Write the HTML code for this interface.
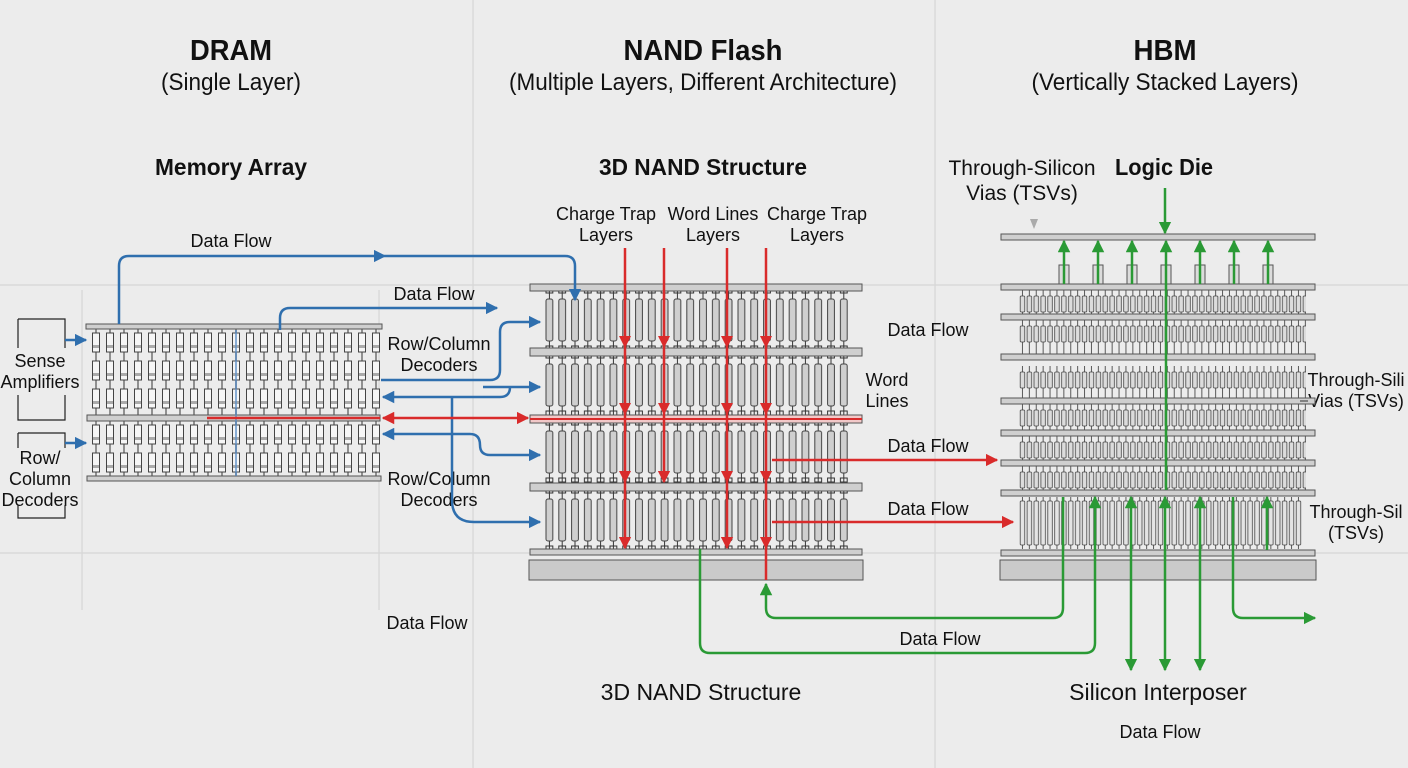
<!DOCTYPE html>
<html><head><meta charset="utf-8"><style>
html,body{margin:0;padding:0;background:#ececec}
svg{display:block;font-family:"Liberation Sans",Arial,sans-serif}
</style></head><body>
<svg width="1408" height="768" viewBox="0 0 1408 768" xmlns="http://www.w3.org/2000/svg">
<defs>
<marker id="ab" viewBox="0 0 10 10" refX="9" refY="5" markerWidth="5" markerHeight="5" orient="auto-start-reverse"><path d="M0,0L10,5L0,10z" fill="#2f6fae"/></marker>
<marker id="ar" viewBox="0 0 10 10" refX="9" refY="5" markerWidth="5" markerHeight="5" orient="auto-start-reverse"><path d="M0,0L10,5L0,10z" fill="#d92b2b"/></marker>
<marker id="ag" viewBox="0 0 10 10" refX="9" refY="5" markerWidth="5" markerHeight="5" orient="auto-start-reverse"><path d="M0,0L10,5L0,10z" fill="#2a9a35"/></marker>
<pattern id="pd" width="14" height="28" patternUnits="userSpaceOnUse">
<line x1="7" y1="0" x2="7" y2="28" stroke="#333" stroke-width="1"/>
<rect x="3.5" y="4" width="7" height="19" fill="#f6f6f6" stroke="#444" stroke-width="1"/>
<rect x="4" y="16" width="6" height="3" fill="#aaa"/>
</pattern>
<pattern id="pn" width="12.8" height="57" patternUnits="userSpaceOnUse">
<line x1="6.4" y1="0" x2="6.4" y2="57" stroke="#333" stroke-width="1"/>
<path d="M3,57 L3,55 L9.8,55 L9.8,57 M3,0 L3,2 L9.8,2 L9.8,0" fill="none" stroke="#333"/>
<rect x="3" y="8" width="6.8" height="42" rx="2" fill="#cfcfcf" stroke="#444" stroke-width="1"/>
</pattern>
<pattern id="ph" width="6.9" height="30" patternUnits="userSpaceOnUse">
<line x1="3.45" y1="0" x2="3.45" y2="30" stroke="#333" stroke-width="0.8"/>
<rect x="1.2" y="6" width="4.5" height="16" rx="1" fill="#dcdcdc" stroke="#444" stroke-width="0.8"/>
</pattern>
<pattern id="ph2" width="6.9" height="52" patternUnits="userSpaceOnUse">
<line x1="3.45" y1="0" x2="3.45" y2="52" stroke="#333" stroke-width="0.8"/>
<rect x="1.2" y="4" width="4.5" height="44" rx="1" fill="#e4e4e4" stroke="#444" stroke-width="0.8"/>
</pattern>
</defs>

<g stroke="#d6d6d6" stroke-width="1.2">
<line x1="473" y1="0" x2="473" y2="768"/><line x1="935" y1="0" x2="935" y2="768"/>
<line x1="82" y1="290" x2="82" y2="610"/><line x1="379" y1="290" x2="379" y2="610"/>
<line x1="0" y1="285" x2="1408" y2="285"/><line x1="0" y1="553" x2="1408" y2="553"/>
</g>

<g fill="#111" text-anchor="middle">
<text x="231" y="60" font-size="29" font-weight="bold" textLength="82" lengthAdjust="spacingAndGlyphs">DRAM</text>
<text x="231" y="90" font-size="24" textLength="140" lengthAdjust="spacingAndGlyphs">(Single Layer)</text>
<text x="703" y="60" font-size="29" font-weight="bold" textLength="159" lengthAdjust="spacingAndGlyphs">NAND Flash</text>
<text x="703" y="90" font-size="24" textLength="388" lengthAdjust="spacingAndGlyphs">(Multiple Layers, Different Architecture)</text>
<text x="1165" y="60" font-size="29" font-weight="bold" textLength="63" lengthAdjust="spacingAndGlyphs">HBM</text>
<text x="1165" y="90" font-size="24" textLength="267" lengthAdjust="spacingAndGlyphs">(Vertically Stacked Layers)</text>
<text x="231" y="175" font-size="23" font-weight="bold" textLength="152" lengthAdjust="spacingAndGlyphs">Memory Array</text>
<text x="703" y="175" font-size="23" font-weight="bold" textLength="208" lengthAdjust="spacingAndGlyphs">3D NAND Structure</text>
<text x="1164" y="175" font-size="23" font-weight="bold" textLength="98" lengthAdjust="spacingAndGlyphs">Logic Die</text>
<text x="1022" y="175" font-size="21">Through-Silicon</text>
<text x="1022" y="200" font-size="21">Vias (TSVs)</text>
</g>
<g fill="#111" text-anchor="middle" font-size="18">
<text x="606" y="220">Charge Trap</text><text x="606" y="241">Layers</text>
<text x="713" y="220">Word Lines</text><text x="713" y="241">Layers</text>
<text x="817" y="220">Charge Trap</text><text x="817" y="241">Layers</text>
<text x="231" y="247">Data Flow</text>
<text x="434" y="300">Data Flow</text>
<text x="439" y="350">Row/Column</text><text x="439" y="371">Decoders</text>
<text x="439" y="485">Row/Column</text><text x="439" y="506">Decoders</text>
<text x="427" y="629">Data Flow</text>
<text x="928" y="336">Data Flow</text>
<text x="887" y="386">Word</text><text x="887" y="407">Lines</text>
<text x="928" y="452">Data Flow</text>
<text x="928" y="515">Data Flow</text>
<text x="940" y="645">Data Flow</text>
<text x="40" y="367">Sense</text><text x="40" y="388">Amplifiers</text>
<text x="40" y="464">Row/</text><text x="40" y="485">Column</text><text x="40" y="506">Decoders</text>
<text x="1160" y="738">Data Flow</text>
<text x="1356" y="386">Through-Sili</text><text x="1356" y="407">Vias (TSVs)</text>
<text x="1356" y="518">Through-Sil</text><text x="1356" y="539">(TSVs)</text>
</g>
<g fill="#111" text-anchor="middle" font-size="23">
<text x="701" y="700">3D NAND Structure</text>
<text x="1158" y="700">Silicon Interposer</text>
</g>

<g fill="none" stroke="#222" stroke-width="1.2">
<path d="M18,319 H65 V348 M18,319 V348 M18,395 V420 H65 V395"/>
<path d="M18,433 H65 V448 M18,433 V448 M18,505 V518 H65 V505"/>
</g>
<g stroke="#2f6fae" stroke-width="2.5" fill="none">
<line x1="65" y1="340" x2="86" y2="340" marker-end="url(#ab)"/>
<line x1="65" y1="443" x2="86" y2="443" marker-end="url(#ab)"/>
</g>

<!-- DRAM array -->
<g transform="translate(89,329)"><rect width="294" height="86" fill="url(#pd)"/></g>
<g transform="translate(89,421)"><rect width="294" height="56" fill="url(#pd)"/></g>
<g fill="#cfcfcf" stroke="#555" stroke-width="1">
<rect x="86" y="324" width="296" height="5"/>
<rect x="87" y="415" width="293" height="6"/>
<rect x="87" y="476" width="294" height="5"/>
</g>
<line x1="236" y1="330" x2="236" y2="476" stroke="#5b8fc8" stroke-width="2" opacity="0.7"/>
<line x1="207" y1="418" x2="380" y2="418" stroke="#d92b2b" stroke-width="2.5"/>

<!-- NAND -->
<g transform="translate(543,291)"><rect width="307" height="57" fill="url(#pn)"/></g>
<g transform="translate(543,356)"><rect width="307" height="59" fill="url(#pn)"/></g>
<g transform="translate(543,423)"><rect width="307" height="60" fill="url(#pn)"/></g>
<g transform="translate(543,491)"><rect width="307" height="58" fill="url(#pn)"/></g>
<g fill="#cfcfcf" stroke="#555" stroke-width="1">
<rect x="530" y="284" width="332" height="7"/>
<rect x="530" y="348" width="332" height="8"/>
<rect x="530" y="415" width="332" height="8" fill="#f2c9c9"/>
<rect x="530" y="483" width="332" height="8"/>
<rect x="530" y="549" width="332" height="6"/>
<rect x="529" y="560" width="334" height="20" fill="#cacaca"/>
</g>
<line x1="530" y1="419" x2="862" y2="419" stroke="#d92b2b" stroke-width="2"/>

<!-- HBM -->
<g transform="translate(1019,290)"><rect width="287" height="24" fill="url(#ph)"/></g>
<g transform="translate(1019,320)"><rect width="287" height="34" fill="url(#ph)"/></g>
<g transform="translate(1019,366)"><rect width="287" height="32" fill="url(#ph)"/></g>
<g transform="translate(1019,404)"><rect width="287" height="26" fill="url(#ph)"/></g>
<g transform="translate(1019,436)"><rect width="287" height="24" fill="url(#ph)"/></g>
<g transform="translate(1019,466)"><rect width="287" height="24" fill="url(#ph)"/></g>
<g transform="translate(1019,497)"><rect width="283" height="52" fill="url(#ph2)"/></g>
<g fill="#dcdcdc" stroke="#555" stroke-width="1">
<rect x="1059" y="265" width="10" height="19"/><rect x="1093" y="265" width="10" height="19"/>
<rect x="1127" y="265" width="10" height="19"/><rect x="1161" y="265" width="10" height="19"/>
<rect x="1195" y="265" width="10" height="19"/><rect x="1229" y="265" width="10" height="19"/>
<rect x="1263" y="265" width="10" height="19"/>
</g>
<g fill="#cfcfcf" stroke="#555" stroke-width="1">
<rect x="1001" y="234" width="314" height="6"/>
<rect x="1001" y="284" width="314" height="6"/>
<rect x="1001" y="314" width="314" height="6"/>
<rect x="1001" y="354" width="314" height="6"/>
<rect x="1001" y="398" width="314" height="6"/>
<rect x="1001" y="430" width="314" height="6"/>
<rect x="1001" y="460" width="314" height="6"/>
<rect x="1001" y="490" width="314" height="6"/>
<rect x="1001" y="550" width="314" height="6"/>
<rect x="1000" y="560" width="316" height="20" fill="#cacaca"/>
</g>
<line x1="1300" y1="401" x2="1308" y2="401" stroke="#333"/>
<path d="M1030,219 L1038,219 L1034,229z" fill="#aaa"/>

<g stroke="#2f6fae" stroke-width="2.5" fill="none">
<path d="M119,324 V266 Q119,256 129,256 H385" marker-end="url(#ab)"/>
<path d="M385,256 H565 Q575,256 575,266 V300" marker-end="url(#ab)"/>
<path d="M280,330 V318 Q280,308 290,308 H497" marker-end="url(#ab)"/>
<path d="M381,380 H490 Q500,380 500,370 V332 Q500,322 510,322 H540" marker-end="url(#ab)"/>
<path d="M483,387 H540" marker-end="url(#ab)"/>
<path d="M510,387 Q510,397 500,397 H383" marker-end="url(#ab)"/>
<path d="M452,397 V500 Q452,522 474,522 H540" marker-end="url(#ab)"/>
<path d="M470,434 H383" marker-end="url(#ab)"/>
<path d="M470,434 Q480,434 480,445 Q480,455 490,455 H540" marker-end="url(#ab)"/>
</g>
<g stroke="#d92b2b" stroke-width="2.5" fill="none">
<line x1="383" y1="418" x2="528" y2="418" marker-start="url(#ar)" marker-end="url(#ar)"/>
<line x1="625" y1="248" x2="625" y2="548" marker-end="url(#ar)"/>
<line x1="664" y1="248" x2="664" y2="482" marker-end="url(#ar)"/>
<line x1="727" y1="248" x2="727" y2="548" marker-end="url(#ar)"/>
<line x1="766" y1="248" x2="766" y2="580"/>
<line x1="772" y1="460" x2="997" y2="460" marker-end="url(#ar)"/>
<line x1="772" y1="522" x2="1013" y2="522" marker-end="url(#ar)"/>
</g>
<g fill="#d92b2b">
<path d="M619,336 L631,336 L625,348z"/><path d="M658,336 L670,336 L664,348z"/><path d="M721,336 L733,336 L727,348z"/><path d="M760,336 L772,336 L766,348z"/>
<path d="M619,403 L631,403 L625,415z"/><path d="M658,403 L670,403 L664,415z"/><path d="M721,403 L733,403 L727,415z"/><path d="M760,403 L772,403 L766,415z"/>
<path d="M619,471 L631,471 L625,483z"/><path d="M721,471 L733,471 L727,483z"/><path d="M760,471 L772,471 L766,483z"/>
<path d="M760,537 L772,537 L766,549z"/>
</g>
<g stroke="#2a9a35" stroke-width="2.5" fill="none">
<path d="M700,549 V643 Q700,653 710,653 H1085 Q1095,653 1095,643 V497" marker-end="url(#ag)"/>
<path d="M1063,497 V608 Q1063,618 1053,618 H776 Q766,618 766,608 V584" marker-end="url(#ag)"/>
<line x1="1131" y1="497" x2="1131" y2="670" marker-start="url(#ag)" marker-end="url(#ag)"/>
<line x1="1165" y1="497" x2="1165" y2="670" marker-start="url(#ag)" marker-end="url(#ag)"/>
<line x1="1200" y1="497" x2="1200" y2="670" marker-start="url(#ag)" marker-end="url(#ag)"/>
<path d="M1233,497 V608 Q1233,618 1243,618 H1315" marker-end="url(#ag)"/>
<line x1="1267" y1="550" x2="1267" y2="497" marker-end="url(#ag)"/>
<line x1="1165" y1="188" x2="1165" y2="233" marker-end="url(#ag)"/>
<line x1="1064" y1="284" x2="1064" y2="241" marker-end="url(#ag)"/>
<line x1="1098" y1="284" x2="1098" y2="241" marker-end="url(#ag)"/>
<line x1="1132" y1="284" x2="1132" y2="241" marker-end="url(#ag)"/>
<line x1="1166" y1="490" x2="1166" y2="241" marker-end="url(#ag)"/>
<line x1="1200" y1="284" x2="1200" y2="241" marker-end="url(#ag)"/>
<line x1="1234" y1="284" x2="1234" y2="241" marker-end="url(#ag)"/>
<line x1="1268" y1="284" x2="1268" y2="241" marker-end="url(#ag)"/>
</g>
</svg>
</body></html>
